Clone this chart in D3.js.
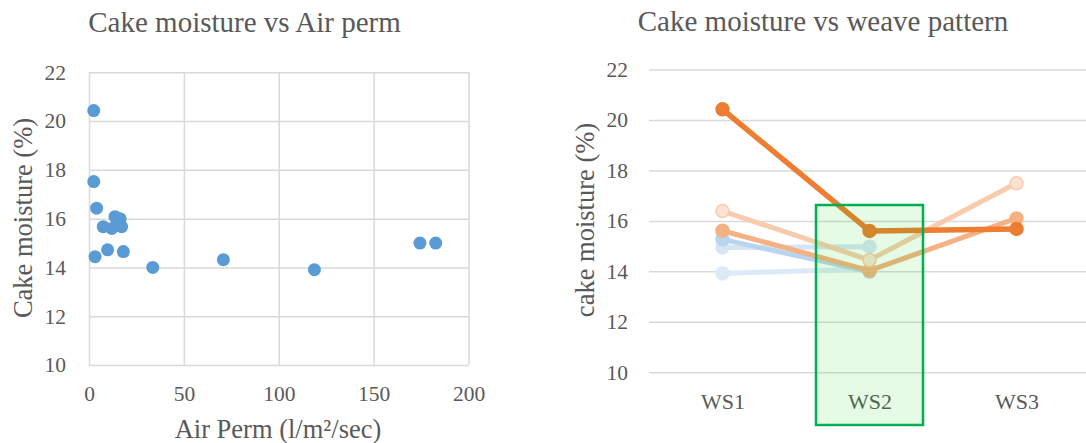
<!DOCTYPE html>
<html>
<head>
<meta charset="utf-8">
<script src="https://cdn.jsdelivr.net/npm/d3@7"></script>
<style>
  html, body { margin: 0; padding: 0; background: #fff; }
  svg { display: block; font-family: "Liberation Serif", "Times New Roman", serif; }
  .tick text { fill: #595959; }
</style>
</head>
<body>
<svg id="chart" width="1086" height="443"></svg>
<script>
/* ── Data ─────────────────────────────────────────────────────────── */

// left: air permeability (l/m²/sec) vs cake moisture (%)
const airPerm  = [2.5, 2.5, 4.0, 7.5, 12.0, 17.2, 13.7, 16.4, 9.8, 18.1, 3.2, 33.6, 70.8, 118.8, 174.4, 182.7];
const moisture = [20.43, 17.52, 16.43, 15.67, 15.6, 15.67, 16.08, 16.0, 14.72, 14.65, 14.44, 14.0, 14.32, 13.91, 15.0, 15.0];

// right: moisture by weave pattern, one row per sample
const weaves = ['WS1', 'WS2', 'WS3'];
const sampleNames = ['S6', 'S5', 'S4', 'S3', 'S2', 'S1'];
const sampleValues = [
  [13.92, 14.1, null],
  [14.95, 14.98, null],
  [15.27, 13.99, null],
  [15.61, 14.03, 16.1],
  [16.39, 14.45, 17.49],
  [20.42, 15.6, 15.68],
];
const sampleColors = ['#DCE9F6', '#D6E5F4', '#B9D4ED', '#F4B183', '#F8CBAD', '#ED7D31'];
const markerFills  = ['#DCE9F6', '#D6E5F4', '#B9D4ED', '#F4B183', '#FBE2D2', '#ED7D31'];

const yTicks = [10, 12, 14, 16, 18, 20, 22];
const xTicks = [0, 50, 100, 150, 200];

const GRID = '#D9D9D9';
const TEXT = '#595959';
const FONT = '"Liberation Serif", "Times New Roman", serif';

const svg = d3.select('#chart');

function styleAxis(g) {
  g.attr('font-family', FONT);
  g.select('.domain').remove();
  g.selectAll('.tick line').attr('stroke', GRID).attr('stroke-width', 1.5);
  g.selectAll('.tick text').attr('font-size', 21.5).attr('fill', TEXT);
}

/* ── Left: scatter ────────────────────────────────────────────────── */

const L = { left: 89, right: 468.5, top: 72.3, bottom: 365 };
const xL = d3.scaleLinear().domain([0, 200]).range([L.left, L.right]);
const yL = d3.scaleLinear().domain([10, 22]).range([L.bottom, L.top]);

svg.append('g')
  .attr('transform', `translate(0,${L.bottom})`)
  .call(d3.axisBottom(xL).tickValues(xTicks).tickSize(-(L.bottom - L.top)).tickPadding(21))
  .call(styleAxis);

svg.append('g')
  .attr('transform', `translate(${L.left},0)`)
  .call(d3.axisLeft(yL).tickValues(yTicks).tickSize(-(L.right - L.left)).tickPadding(23))
  .call(styleAxis);

svg.append('g')
  .selectAll('circle')
  .data(airPerm.map((x, i) => [x, moisture[i]]))
  .join('circle')
  .attr('cx', d => xL(d[0]))
  .attr('cy', d => yL(d[1]))
  .attr('r', 6.5)
  .attr('fill', '#5B9BD5');

svg.append('text')
  .attr('x', 244.5).attr('y', 32)
  .attr('text-anchor', 'middle')
  .attr('font-size', 29).attr('fill', TEXT)
  .text('Cake moisture vs Air perm');

svg.append('text')
  .attr('x', 278).attr('y', 438)
  .attr('text-anchor', 'middle')
  .attr('font-size', 26.5).attr('fill', TEXT)
  .text('Air Perm (l/m²/sec)');

svg.append('text')
  .attr('transform', 'translate(22.5,218) rotate(-90)')
  .attr('text-anchor', 'middle')
  .attr('dominant-baseline', 'central')
  .attr('font-size', 26.5).attr('fill', TEXT)
  .text('Cake moisture (%)');

/* ── Right: lines by weave ────────────────────────────────────────── */

const R = { left: 649, right: 1090, top: 69.5, bottom: 372.3 };
const xR = d3.scalePoint().domain(weaves).range([R.left, R.right]).padding(0.5);
const yR = d3.scaleLinear().domain([10, 22]).range([R.bottom, R.top]);

svg.append('g')
  .attr('transform', `translate(${R.left},0)`)
  .call(d3.axisLeft(yR).tickValues(yTicks).tickSize(-(R.right - R.left)).tickPadding(21))
  .call(styleAxis);

svg.append('g')
  .attr('transform', `translate(0,${R.bottom})`)
  .call(d3.axisBottom(xR).tickSize(0).tickPadding(21))
  .call(g => {
    g.attr('font-family', FONT);
    g.select('.domain').remove();
    g.selectAll('.tick text').attr('font-size', 22).attr('fill', TEXT);
  });

const line = d3.line()
  .defined(d => d.v != null)
  .x(d => xR(d.w))
  .y(d => yR(d.v));

const series = svg.append('g')
  .selectAll('g')
  .data(sampleValues.map((vals, i) => ({
    name: sampleNames[i],
    color: sampleColors[i],
    fill: markerFills[i],
    pts: vals.map((v, j) => ({ w: weaves[j], v })),
  })))
  .join('g');

series.append('path')
  .attr('d', d => line(d.pts))
  .attr('fill', 'none')
  .attr('stroke', d => d.color)
  .attr('stroke-width', d => d.name === 'S1' ? 5.5 : 5)
  .attr('stroke-linejoin', 'round');

series.selectAll('circle')
  .data(d => d.pts.filter(p => p.v != null).map(p => ({ ...p, color: d.color, fill: d.fill })))
  .join('circle')
  .attr('cx', p => xR(p.w))
  .attr('cy', p => yR(p.v))
  .attr('r', 6.5)
  .attr('fill', p => p.fill)
  .attr('stroke', p => p.color)
  .attr('stroke-width', 1.5);

// highlight box round WS2
svg.append('rect')
  .attr('x', xR('WS2') - 53.5).attr('y', 205)
  .attr('width', 107).attr('height', 220)
  .attr('fill', 'rgba(0,215,0,0.1)')
  .attr('stroke', '#00B050')
  .attr('stroke-width', 2.5);

svg.append('text')
  .attr('x', 823).attr('y', 31)
  .attr('text-anchor', 'middle')
  .attr('font-size', 29).attr('fill', TEXT)
  .text('Cake moisture vs weave pattern');

svg.append('text')
  .attr('transform', 'translate(585,220) rotate(-90)')
  .attr('text-anchor', 'middle')
  .attr('dominant-baseline', 'central')
  .attr('font-size', 26.5).attr('fill', TEXT)
  .text('cake moisture (%)');
</script>
</body>
</html>
